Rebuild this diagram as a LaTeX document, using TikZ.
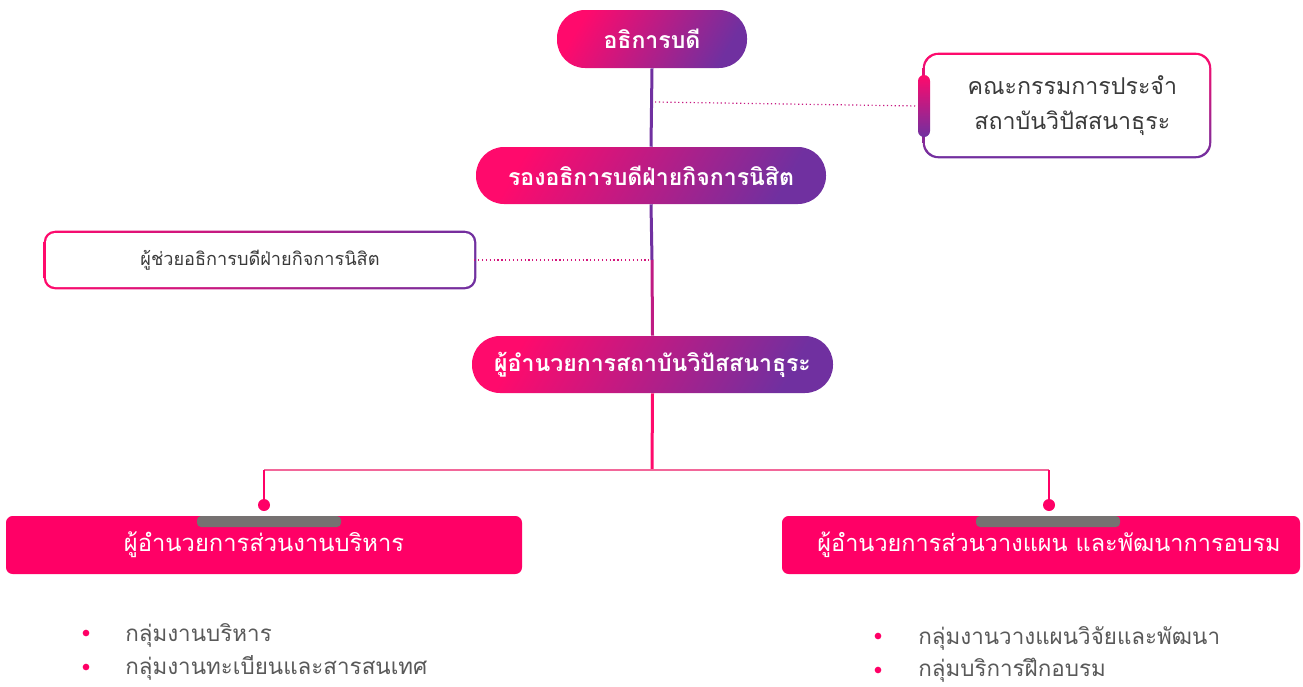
\documentclass[tikz,border=0pt]{standalone}
\usepackage{fontspec}
\setmainfont[Script=Thai]{Loma}
\usetikzlibrary{backgrounds}
\definecolor{pinkA}{HTML}{FF0A6C}
\definecolor{pinkB}{HTML}{FF0066}
\definecolor{purA}{HTML}{7030A0}
\definecolor{tabgrey}{HTML}{767171}
\definecolor{txtgrey}{HTML}{595959}
\definecolor{darktxt}{HTML}{3A3A3A}
\definecolor{thinpink}{HTML}{F2679A}
\tikzset{
  pill/.style={rectangle, rounded corners=21pt, left color=pinkA, right color=purA,
    shading angle=60, text=white, inner sep=0pt,
    font=\fontsize{17.3}{20}\selectfont\bfseries},
  framebox/.style={rectangle, fill=white, inner sep=0pt, text=darktxt},
  unitbox/.style={rectangle, rounded corners=5pt, fill=pinkB, text=white, inner sep=0pt,
    minimum height=43.5pt, font=\fontsize{17.8}{20}\selectfont},
  tab/.style={rectangle, fill=tabgrey, inner sep=0pt, minimum height=8.25pt,
    minimum width=108pt, rounded corners=3pt},
  vline/.style={line width=2.25pt},
  hline/.style={line width=1.1pt, thinpink},
  dotline/.style={dotted, line width=0.9pt},
  pindot/.style={circle, fill=pinkB, inner sep=0pt, minimum size=9pt},
  bullet/.style={circle, fill=pinkB, inner sep=0pt, minimum size=5pt},
  item/.style={anchor=west, text=txtgrey, inner sep=0pt, font=\fontsize{16.8}{20}\selectfont}
}
\begin{document}
\begin{tikzpicture}[x=0.75pt, y=-0.75pt]
  \useasboundingbox (0,0) rectangle (1303,686);
  % top of the chart
  \node[pill, minimum width=142.5pt, minimum height=43.5pt] (rector) at (652,39) {อธิการบดี};
  \node[pill, minimum width=262.5pt, minimum height=42.75pt] (vice) at (651,175.5) {รองอธิการบดีฝ่ายกิจการนิสิต};
  \node[pill, minimum width=270.75pt, minimum height=42.75pt] (dir) at (652.5,364.5) {ผู้อำนวยการสถาบันวิปัสสนาธุระ};
  % side boxes
  \node[framebox, rounded corners=10pt, minimum width=213pt, minimum height=75.75pt,
    align=center, font=\fontsize{17.4}{26}\selectfont] (board) at (1067,105.5)
    {\hspace*{8pt}คณะกรรมการประจำ\\\hspace*{8pt}สถาบันวิปัสสนาธุระ};
  \node[rectangle, rounded corners=4.5pt, minimum width=9pt, minimum height=46.5pt,
    inner sep=0pt, top color=pinkA, bottom color=purA] (bar) at (924,106) {};
  \node[framebox, rounded corners=7pt, minimum width=321pt, minimum height=40.5pt,
    font=\fontsize{13.6}{17}\selectfont] (asst) at (260,260) {ผู้ช่วยอธิการบดีฝ่ายกิจการนิสิต};
  \begin{scope}[on background layer]
    \shade[top color=pinkA, bottom color=purA, rounded corners=11.5pt]
      ([shift={(-1.5pt,1.5pt)}]board.north west) rectangle ([shift={(1.5pt,-1.5pt)}]board.south east);
    \shade[left color=pinkA, right color=purA, rounded corners=8.5pt]
      ([shift={(-1.5pt,1.5pt)}]asst.north west) rectangle ([shift={(1.5pt,-1.5pt)}]asst.south east);
  \end{scope}
  % lower units
  \node[unitbox, minimum width=387pt] (unitL) at (264,545) {\raisebox{-3pt}{ผู้อำนวยการส่วนงานบริหาร}};
  \node[unitbox, minimum width=388.5pt] (unitR) at (1041,545) {\hspace*{12pt}\raisebox{-3pt}{\fontsize{17.6}{20}\selectfont ผู้อำนวยการส่วนวางแผน และพัฒนาการอบรม}};
  \node[tab] (tabL) at (269,521.5) {};
  \node[tab] (tabR) at (1048,521.5) {};
  \node[pindot] (pinL) at (264,505) {};
  \node[pindot] (pinR) at (1049,505) {};
  \coordinate (junc) at (652,470);
  \coordinate (jl) at (264,470);
  \coordinate (jr) at (1049,470);
  \coordinate (tapB) at (655,102);
  \coordinate (tapA) at (652,260);
  % connectors
  \draw[vline, purA] (rector.south) -- (vice.north);
  \draw[vline, purA] (vice.south) -- (tapA);
  \draw[vline, pinkA!55!purA] (tapA) -- (dir.north);
  \draw[vline, pinkA] (dir.south) -- (junc);
  \draw[hline] (jl) -- (jr);
  \draw[hline, pinkB] (jl) -- (pinL);
  \draw[hline, pinkB] (jr) -- (pinR);
  \draw[dotline, pinkA!60!purA] (tapB) -- (bar.west);
  \draw[dotline, pinkA!70!purA] (asst.east) -- (tapA);
  % work groups
  \node[bullet] (bl1) at (86,633) {};
  \node[bullet] (bl2) at (86,667) {};
  \node[item] (tl1) at (125,635) {กลุ่มงานบริหาร};
  \node[item] (tl2) at (125,668) {กลุ่มงานทะเบียนและสารสนเทศ};
  \node[bullet] (br1) at (878,636) {};
  \node[bullet] (br2) at (878,670) {};
  \node[item] (tr1) at (918,638) {กลุ่มงานวางแผนวิจัยและพัฒนา};
  \node[item] (tr2) at (918,670) {กลุ่มบริการฝึกอบรม};
\end{tikzpicture}
\end{document}
